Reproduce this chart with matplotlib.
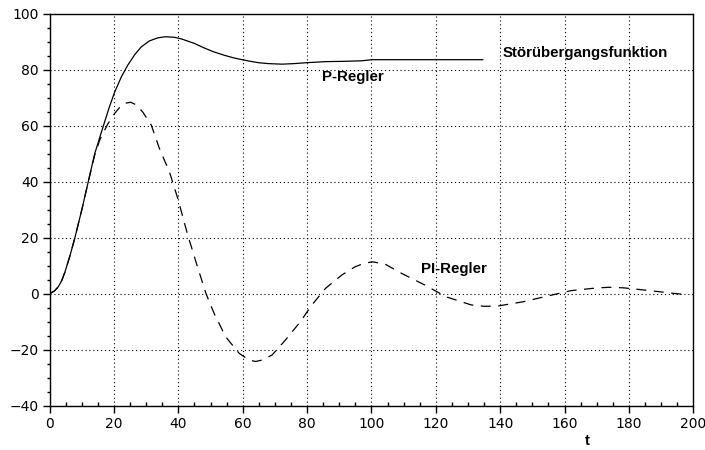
import matplotlib.pyplot as plt
import matplotlib
from matplotlib.ticker import MultipleLocator

matplotlib.use('Agg')
plt.rcParams['font.family'] = ['DejaVu Sans']

# P-Regler (durchgezogen)
t_p = [0, 1.5, 2.7, 3.8, 4.8, 6.3, 7.85, 10, 12, 14, 16.6, 18.5, 20.2, 22.3, 24.3,
       26.5, 28.5, 31, 33.6, 36, 38.8, 41, 45, 48, 51, 54.2, 57, 59.4, 62, 65, 68,
       72.2, 76, 79.5, 85.6, 91, 97, 100, 110, 120, 134.6]
v_p = [0, 1.0, 2.5, 4.8, 7.9, 13.5, 20, 30, 40, 50, 59.6, 66.5, 72, 77.5, 81.7,
       85.5, 88.2, 90.3, 91.4, 91.8, 91.6, 91.0, 89.4, 87.8, 86.4, 85.2, 84.3, 83.7,
       83.1, 82.5, 82.2, 82.0, 82.2, 82.5, 82.9, 83.0, 83.2, 83.6, 83.6, 83.6, 83.6]

# PI-Regler (gestrichelt)
t_pi = [0, 1.5, 2.7, 3.8, 4.8, 6.3, 7.85, 10, 12, 14, 15.6, 18, 20.2, 21.8, 23.3,
        25.2, 27, 29, 31.6, 34.1, 37.2, 39.8, 42.9, 46, 48.6, 51.1, 54.7, 58.9, 62,
        64, 66, 69.1, 73.3, 77.9, 81.5, 85.7, 90.8, 94.9, 97.5, 100.3, 104.2, 109.3,
        116.6, 123.2, 131, 135, 139.2, 147, 154.8, 162, 170.2, 174, 178.4, 186.6,
        194.9, 198]
v_pi = [0, 1.0, 2.5, 4.8, 7.9, 13.5, 20, 30, 40, 49.5, 55, 60.5, 64.4, 66.6, 68,
        68.4, 67.4, 64.8, 60.2, 51.9, 43.6, 34.1, 21.0, 9.4, 0, -7, -15.4, -21.3,
        -23.7, -24.2, -23.7, -21.9, -16.5, -10, -4, 1.9, 6.7, 9.6, 10.8, 11.4, 10.6,
        7.3, 3.1, -1.1, -4.0, -4.5, -4.4, -2.9, -0.8, 1.1, 2.1, 2.3, 2.1, 1.1, 0, -0.3]

fig = plt.figure(figsize=(7.05, 4.5), dpi=100)
ax = fig.add_axes([0.0704, 0.0984, 0.913, 0.871])

ax.plot(t_p, v_p, color='black', linewidth=0.9)
ax.plot(t_pi, v_pi, color='black', linewidth=0.9, dashes=(8, 6))

ax.set_xlim(0, 200)
ax.set_ylim(-40, 100)
ax.xaxis.set_major_locator(MultipleLocator(20))
ax.yaxis.set_major_locator(MultipleLocator(20))
ax.xaxis.set_minor_locator(MultipleLocator(5))
ax.yaxis.set_minor_locator(MultipleLocator(5))
ax.tick_params(axis='both', which='major', direction='out', length=5, width=1,
               labelsize=10, pad=3)
ax.tick_params(axis='x', which='minor', direction='in', length=3, width=1)
ax.tick_params(axis='y', which='minor', direction='out', length=2, width=1)
ax.grid(True, which='major', color='black', linestyle=(0, (1, 2.5)), linewidth=0.8)
for s in ax.spines.values():
    s.set_linewidth(1)

bold = dict(family='Liberation Sans', fontweight='bold', fontsize=10.8, color='black')
ax.text(140.8, 86, 'Störübergangsfunktion', va='center', ha='left', **bold)
ax.text(84.5, 77.5, 'P-Regler', va='center', ha='left', **bold)
ax.text(115.3, 8.8, 'PI-Regler', va='center', ha='left', **bold)
ax.text(167, -0.09, 't', transform=ax.get_xaxis_transform(), va='center',
        ha='center', **bold)

plt.savefig('out.png', dpi=100)
